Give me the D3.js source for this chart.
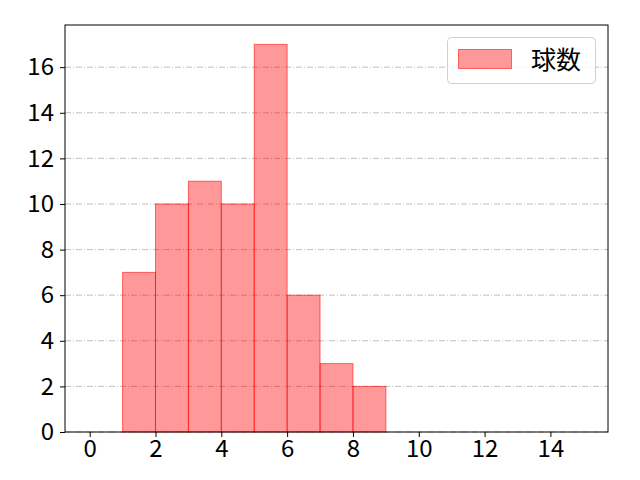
<!DOCTYPE html>
<html>
<head>
<meta charset="utf-8">
<script src="https://cdn.jsdelivr.net/npm/d3@7"></script>
<style>
  body { margin: 0; background: #fff; }
  text { font-family: "Noto Sans CJK JP", "DejaVu Sans", sans-serif; }
</style>
</head>
<body>
<svg id="chart" width="640" height="480"></svg>
<script>
// histogram bins (left edge, right edge) and counts
var binStarts = [1, 2, 3, 4, 5, 6, 7, 8];
var binEnds   = [2, 3, 4, 5, 6, 7, 8, 9];
var counts    = [7, 10, 11, 10, 17, 6, 3, 2];
var xTicks = [0, 2, 4, 6, 8, 10, 12, 14];
var yTicks = [0, 2, 4, 6, 8, 10, 12, 14, 16];
var seriesName = "球数";

var margin = {left: 65, right: 32, top: 25, bottom: 48};
var width = 640, height = 480;
var fontSize = 24;

var svg = d3.select("#chart");

var x = d3.scaleLinear()
  .domain([-0.75, 15.75])
  .range([margin.left, width - margin.right]);

var y = d3.scaleLinear()
  .domain([0, 17.85])
  .range([height - margin.bottom, margin.top]);

// grid lines
svg.append("g")
  .selectAll("line")
  .data(yTicks)
  .enter()
  .append("line")
  .attr("x1", x.range()[0])
  .attr("x2", x.range()[1])
  .attr("y1", function(d) { return y(d); })
  .attr("y2", function(d) { return y(d); })
  .attr("stroke", "#b0b0b0")
  .attr("stroke-width", 0.8)
  .attr("stroke-dasharray", "6,2,1,2");

// bars
svg.append("g")
  .selectAll("rect")
  .data(counts)
  .enter()
  .append("rect")
  .attr("x", function(d, i) { return x(binStarts[i]); })
  .attr("y", function(d) { return y(d); })
  .attr("width", function(d, i) { return x(binEnds[i]) - x(binStarts[i]); })
  .attr("height", function(d) { return y(0) - y(d); })
  .attr("fill", "rgba(255,0,0,0.4)")
  .attr("stroke", "rgba(255,0,0,0.55)")
  .attr("stroke-width", 1);

// axes
var xAxis = svg.append("g")
  .attr("transform", "translate(0," + (height - margin.bottom) + ")")
  .call(d3.axisBottom(x).tickValues(xTicks).tickSize(5).tickPadding(3).tickFormat(d3.format("d")));

var yAxis = svg.append("g")
  .attr("transform", "translate(" + margin.left + ",0)")
  .call(d3.axisLeft(y).tickValues(yTicks).tickSize(5).tickPadding(6).tickFormat(d3.format("d")));

[xAxis, yAxis].forEach(function(a) {
  a.attr("font-size", fontSize).attr("font-family", null);
  a.select(".domain").remove();
  a.selectAll("line").attr("stroke", "#000").attr("stroke-width", 1);
  a.selectAll("text").attr("fill", "#000").attr("font-size", fontSize);
});

// frame
svg.append("rect")
  .attr("x", margin.left)
  .attr("y", margin.top)
  .attr("width", width - margin.left - margin.right)
  .attr("height", height - margin.top - margin.bottom)
  .attr("fill", "none")
  .attr("stroke", "#000")
  .attr("stroke-width", 1);

// legend
var legend = svg.append("g").attr("class", "legend");
legend.append("rect")
  .attr("x", 447.5)
  .attr("y", 37.5)
  .attr("width", 148)
  .attr("height", 46)
  .attr("rx", 4)
  .attr("fill", "rgba(255,255,255,0.8)")
  .attr("stroke", "#d0d0d0")
  .attr("stroke-width", 1);
legend.append("rect")
  .attr("x", 458.5)
  .attr("y", 49.5)
  .attr("width", 53)
  .attr("height", 19)
  .attr("fill", "rgba(255,0,0,0.4)")
  .attr("stroke", "rgba(255,0,0,0.55)")
  .attr("stroke-width", 1);
legend.append("text")
  .attr("x", 531)
  .attr("y", 69)
  .attr("font-size", 25)
  .attr("fill", "#000")
  .text(seriesName);
</script>
</body>
</html>
